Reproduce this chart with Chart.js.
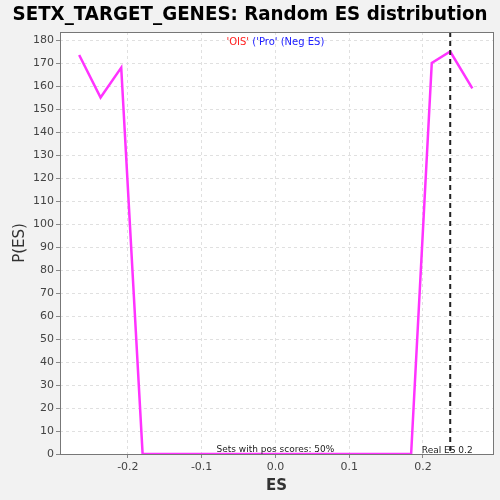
<!DOCTYPE html>
<html>
<head>
<meta charset="utf-8">
<script src="https://cdn.jsdelivr.net/npm/chart.js@4.4.0/dist/chart.umd.min.js"></script>
<style>
  html, body { margin: 0; padding: 0; background: #f2f2f2; }
  #wrap { width: 500px; height: 500px; }
</style>
</head>
<body>
<div id="wrap"><canvas id="esChart" width="500" height="500"></canvas></div>
<script>
// Random ES distribution
const esValues = [-0.266, -0.237, -0.209, -0.180, -0.150, -0.100, -0.050, 0.000, 0.050, 0.100, 0.150, 0.184, 0.212, 0.237, 0.267];
const densityValues = [173.5, 155, 168, 0, 0, 0, 0, 0, 0, 0, 0, 0, 170, 175, 159];
const xTicks = [-0.2, -0.1, 0.0, 0.1, 0.2];
const yTicks = [0, 10, 20, 30, 40, 50, 60, 70, 80, 90, 100, 110, 120, 130, 140, 150, 160, 170, 180];
const realES = 0.237;
const chartTitle = "SETX_TARGET_GENES: Random ES distribution";
const posScoresLabel = "Sets with pos scores: 50%";
const realESLabel = "Real ES 0.2";

const overlayPlugin = {
    id: 'overlay',
    beforeDraw(chart) {
        const { ctx, chartArea } = chart;
        ctx.save();
        ctx.fillStyle = '#ffffff';
        ctx.fillRect(chartArea.left, chartArea.top, chartArea.right - chartArea.left, chartArea.bottom - chartArea.top);
        ctx.restore();
    },
    afterDatasetsDraw(chart) {
        const { ctx, chartArea, scales } = chart;
        const x = scales.x.getPixelForValue(realES);
        ctx.save();
        ctx.strokeStyle = '#222';
        ctx.lineWidth = 2;
        ctx.setLineDash([5, 4]);
        ctx.beginPath();
        ctx.moveTo(x, chartArea.top);
        ctx.lineTo(x, chartArea.bottom);
        ctx.stroke();
        ctx.setLineDash([]);

        // border
        ctx.strokeStyle = '#777';
        ctx.lineWidth = 1;
        ctx.strokeRect(chartArea.left + 0.5, chartArea.top + 0.5, chartArea.right - chartArea.left, chartArea.bottom - chartArea.top);

        // title, squeezed to the width it has in the picture
        ctx.fillStyle = '#000';
        ctx.font = 'bold 20px "DejaVu Sans", sans-serif';
        ctx.textAlign = 'center';
        ctx.textBaseline = 'middle';
        const tw = ctx.measureText(chartTitle).width;
        const sx = Math.min(1, 475 / tw);
        ctx.save();
        ctx.translate(250, 15);
        ctx.scale(sx, 1);
        ctx.fillText(chartTitle, 0, 0);
        ctx.restore();

        // legend text
        ctx.font = '10px "DejaVu Sans", sans-serif';
        const part1 = "'OIS' ";
        const part2 = "('Pro' (Neg ES)";
        const w1 = ctx.measureText(part1).width;
        const w2 = ctx.measureText(part2).width;
        let lx = scales.x.getPixelForValue(0) - (w1 + w2) / 2;
        ctx.textAlign = 'left';
        ctx.fillStyle = '#ff2020';
        ctx.fillText(part1, lx, 42);
        ctx.fillStyle = '#2020ff';
        ctx.fillText(part2, lx + w1, 42);

        // bottom annotations
        ctx.font = '9px "DejaVu Sans", sans-serif';
        ctx.fillStyle = '#222';
        ctx.textAlign = 'center';
        ctx.fillText(posScoresLabel, scales.x.getPixelForValue(0), chartArea.bottom - 4);
        ctx.fillText(realESLabel, x - 3, chartArea.bottom - 3);
        ctx.restore();
    }
};

new Chart(document.getElementById('esChart'), {
    type: 'line',
    data: {
        datasets: [{
            data: esValues.map((v, i) => ({ x: v, y: densityValues[i] })),
            borderColor: '#ff33ff',
            borderWidth: 2.5,
            pointRadius: 0,
            tension: 0,
            fill: false
        }]
    },
    options: {
        responsive: false,
        animation: false,
        layout: { padding: { top: 32, right: 7, left: 0, bottom: 0 } },
        plugins: {
            legend: { display: false },
            tooltip: { enabled: false }
        },
        scales: {
            x: {
                type: 'linear',
                min: -0.292,
                max: 0.295,
                afterBuildTicks: (axis) => { axis.ticks = xTicks.map(v => ({ value: v })); },
                afterFit: (axis) => { axis.height = 46; },
                border: { display: false, dash: [3, 3] },
                grid: { color: '#e0e0e0', drawTicks: true, tickLength: 4, tickColor: '#888' },
                ticks: {
                    color: '#444',
                    font: { size: 11, family: '"DejaVu Sans", sans-serif' },
                    padding: 3,
                    callback: (v) => v.toFixed(1)
                },
                title: {
                    display: true,
                    text: 'ES',
                    color: '#333',
                    font: { size: 15, weight: 'bold', family: '"DejaVu Sans", sans-serif' },
                    padding: { top: 0, bottom: 5 }
                }
            },
            y: {
                type: 'linear',
                min: 0,
                max: 183.5,
                afterBuildTicks: (axis) => { axis.ticks = yTicks.map(v => ({ value: v })); },
                afterFit: (axis) => { axis.width = 60; },
                border: { display: false, dash: [3, 3] },
                grid: { color: '#e0e0e0', drawTicks: true, tickLength: 4, tickColor: '#888' },
                ticks: {
                    color: '#444',
                    font: { size: 11, family: '"DejaVu Sans", sans-serif' },
                    padding: 2
                },
                title: {
                    display: true,
                    text: 'P(ES)',
                    color: '#333',
                    font: { size: 15, family: '"DejaVu Sans", sans-serif' },
                    padding: { top: 11, bottom: 2 }
                }
            }
        }
    },
    plugins: [overlayPlugin]
});
</script>
</body>
</html>
